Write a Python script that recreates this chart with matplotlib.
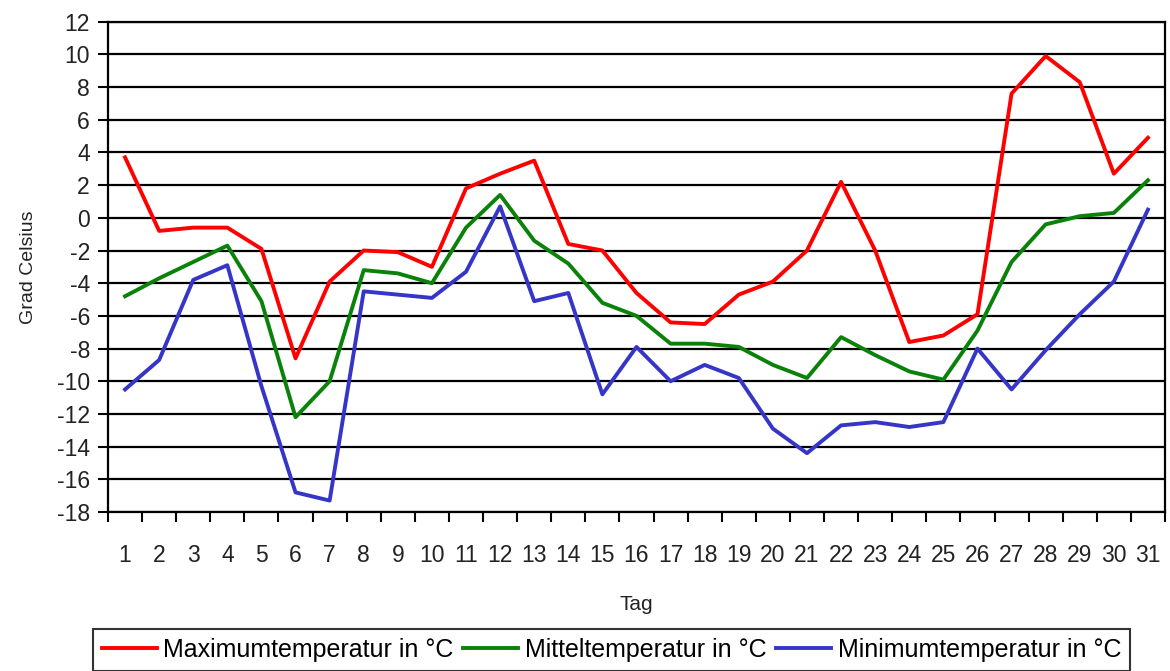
import numpy as np
import matplotlib.pyplot as plt
from matplotlib.ticker import FixedLocator

# Tageswerte (Tag 1..31)
tage = list(range(1, 32))
t_max = [3.7, -0.8, -0.6, -0.6, -1.9, -8.6, -3.9, -2.0, -2.1, -3.0,
         1.8, 2.7, 3.5, -1.6, -2.0, -4.6, -6.4, -6.5, -4.7, -3.9,
         -2.0, 2.2, -2.0, -7.6, -7.2, -5.9, 7.6, 9.9, 8.3, 2.7, 4.9]
t_mittel = [-4.8, -3.7, -2.7, -1.7, -5.1, -12.2, -10.0, -3.2, -3.4, -4.0,
            -0.6, 1.4, -1.4, -2.8, -5.2, -6.0, -7.7, -7.7, -7.9, -9.0,
            -9.8, -7.3, -8.4, -9.4, -9.9, -6.9, -2.7, -0.4, 0.1, 0.3, 2.3]
t_min = [-10.5, -8.7, -3.8, -2.9, -10.3, -16.8, -17.3, -4.5, -4.7, -4.9,
         -3.3, 0.7, -5.1, -4.6, -10.8, -7.9, -10.0, -9.0, -9.8, -12.9,
         -14.4, -12.7, -12.5, -12.8, -12.5, -8.0, -10.5, -8.1, -5.9, -3.9, 0.5]

y_ticks = list(range(-18, 13, 2))

plt.rcParams['font.family'] = ['Liberation Sans', 'DejaVu Sans']

fig = plt.figure(figsize=(11.7, 6.71), dpi=100)
ax = fig.add_axes([108 / 1170, 1 - 512 / 671, (1165 - 108) / 1170, (512 - 21.7) / 671])

x = np.arange(len(tage))
ax.plot(x, t_max, color='#ff0000', lw=2.8, label='Maximumtemperatur in °C')
ax.plot(x, t_mittel, color='#0a820a', lw=2.8, label='Mitteltemperatur in °C')
ax.plot(x, t_min, color='#3535c8', lw=2.8, label='Minimumtemperatur in °C')

ax.set_xlim(-0.5, len(tage) - 0.5)
ax.set_ylim(-18, 12)
ax.set_yticks(y_ticks)
ax.set_yticklabels([str(v) for v in y_ticks])
ax.set_xticks(x)
ax.set_xticklabels([str(t) for t in tage])
ax.xaxis.set_minor_locator(FixedLocator(np.arange(-0.5, len(tage), 1.0)))

ax.tick_params(axis='x', which='major', length=0, pad=23, labelsize=16.5, colors='#222222')
ax.tick_params(axis='x', which='minor', length=7, width=1.5, direction='out', color='black')
ax.tick_params(axis='y', which='major', length=7, width=1.5, pad=6, labelsize=16.5, colors='#222222')
ax.tick_params(axis='both', color='black')

ax.yaxis.grid(True, color='black', lw=1.6)
ax.set_axisbelow(True)
for s in ax.spines.values():
    s.set_color('black')
    s.set_linewidth(1.6)

ax.set_xlabel('Tag', fontsize=15, labelpad=20, color='#222222')
ax.set_ylabel('Grad Celsius', fontsize=14, labelpad=14, color='#222222')

leg = fig.legend(loc='upper left', bbox_to_anchor=(93 / 1170, 1 - 629 / 671),
                 ncol=3, fontsize=18, frameon=True, fancybox=False,
                 handlelength=2.2, handletextpad=0.25, columnspacing=0.4,
                 borderpad=0.35, borderaxespad=0)
leg.get_frame().set_edgecolor('black')
leg.get_frame().set_linewidth(1.5)

fig.savefig('out.png', dpi=100)
